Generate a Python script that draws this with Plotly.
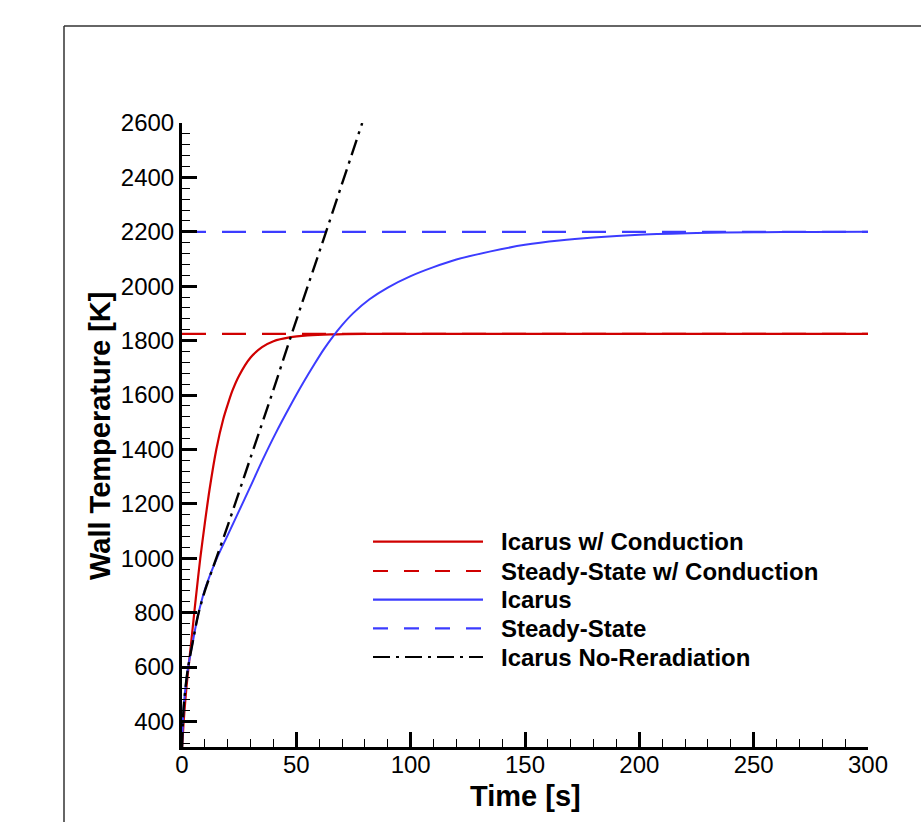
import plotly.graph_objects as go

# ---------------- data ----------------
t_cond = [0, 1, 2, 3, 4, 5, 6, 8, 10, 12, 15, 18, 20, 22, 25, 30, 35, 40, 47, 55, 65, 80, 100, 150, 200, 250, 300]
T_cond = [300, 430, 530, 610, 690, 770, 850, 1000, 1130, 1250, 1400, 1510, 1565, 1615, 1672, 1738, 1776, 1798, 1812, 1819, 1823, 1825, 1825, 1825, 1825, 1825, 1825]

t_ss_cond = [0, 300]
T_ss_cond = [1825, 1825]

t_icarus = [0, 0.5, 1, 2.5, 5, 7, 10, 15, 20, 25, 30, 35, 41, 47, 53, 58, 62, 66, 70, 75, 82, 90, 100, 110, 120, 135, 150, 165, 180, 200, 225, 250, 275, 300]
T_icarus = [300, 420, 480, 590, 705, 790, 885, 995, 1085, 1175, 1265, 1357, 1460, 1555, 1645, 1715, 1768, 1815, 1857, 1902, 1952, 1995, 2037, 2070, 2098, 2128, 2152, 2168, 2179, 2189, 2195.5, 2198.5, 2199.5, 2200]

t_ss = [0, 300]
T_ss = [2200, 2200]

t_norad = [0, 0.5, 1, 2.5, 5, 7, 10, 15, 20, 30, 40, 48, 63, 78.8]
T_norad = [300, 420, 480, 590, 705, 790, 880, 1000, 1120, 1370, 1620, 1825, 2200, 2600]

legend_names = ["Icarus w/ Conduction", "Steady-State w/ Conduction", "Icarus",
                "Steady-State", "Icarus No-Reradiation"]

x_ticks = [0, 50, 100, 150, 200, 250, 300]
y_ticks = [400, 600, 800, 1000, 1200, 1400, 1600, 1800, 2000, 2200, 2400, 2600]

# ---------------- styles ----------------
RED = "#d00000"
BLUE = "#3c3cff"
BLACK = "#000000"
FONT = "Liberation Sans, Arial, Helvetica, sans-serif"

styles = [
    dict(color=RED, width=2.2, dash="solid", shape="spline"),
    dict(color=RED, width=2.2, dash="24px,16px", shape="linear"),
    dict(color=BLUE, width=2.0, dash="solid", shape="spline"),
    dict(color=BLUE, width=2.2, dash="24px,16px", shape="linear"),
    dict(color=BLACK, width=2.4, dash="16px,6px,3px,6px", shape="spline"),
]
legend_dash = ["solid", "15px,16px", "solid", "15px,16px", "17px,6px,3px,6px"]

series = [(t_cond, T_cond), (t_ss_cond, T_ss_cond), (t_icarus, T_icarus),
          (t_ss, T_ss), (t_norad, T_norad)]

W, H = 921, 822
L, R, T, B = 182, 53, 123, 75
pw, ph = W - L - R, H - T - B


def px2paper_x(px):
    return (px - L) / pw


def px2paper_y(py):
    return (H - B - py) / ph


fig = go.Figure()
for (xs, ys), name, st in zip(series, legend_names, styles):
    fig.add_trace(go.Scatter(x=xs, y=ys, mode="lines", name=name,
                             line=dict(color=st["color"], width=st["width"], dash=st["dash"],
                                       shape=st["shape"], smoothing=0.8),
                             showlegend=False, hoverinfo="skip"))

shapes = []
annotations = []

# legend drawn manually (long line samples)
leg_rows = [541.7, 571.0, 599.7, 628.4, 657.0]
for name, st, ld, ry in zip(legend_names, styles, legend_dash, leg_rows):
    shapes.append(dict(type="line", xref="paper", yref="paper",
                       x0=px2paper_x(373), x1=px2paper_x(483),
                       y0=px2paper_y(ry), y1=px2paper_y(ry),
                       line=dict(color=st["color"], width=2.2, dash=ld)))
    annotations.append(dict(text="<b>%s</b>" % name, xref="paper", yref="paper",
                            x=px2paper_x(499), y=px2paper_y(ry),
                            xanchor="left", yanchor="middle", showarrow=False,
                            font=dict(family=FONT, size=24, color="black")))

# outer frame (top and left edges)
shapes.append(dict(type="line", xref="paper", yref="paper",
                   x0=px2paper_x(64), x1=px2paper_x(925),
                   y0=px2paper_y(26), y1=px2paper_y(26),
                   line=dict(color="#333333", width=1.5)))
shapes.append(dict(type="line", xref="paper", yref="paper",
                   x0=px2paper_x(64), x1=px2paper_x(64),
                   y0=px2paper_y(26), y1=px2paper_y(830),
                   line=dict(color="#333333", width=1.5)))

# axis titles
annotations.append(dict(text="<b>Time [s]</b>", xref="paper", yref="paper",
                        x=0.5, y=px2paper_y(796), xanchor="center", yanchor="middle",
                        showarrow=False, font=dict(family=FONT, size=29, color="black")))
annotations.append(dict(text="<b>Wall Temperature [K]</b>", xref="paper", yref="paper",
                        x=px2paper_x(100), y=px2paper_y(436), xanchor="center", yanchor="middle",
                        textangle=-90, showarrow=False,
                        font=dict(family=FONT, size=29, color="black")))

fig.update_layout(
    width=W, height=H,
    margin=dict(l=L, r=R, t=T, b=B, pad=0),
    paper_bgcolor="white", plot_bgcolor="white",
    showlegend=False,
    shapes=shapes, annotations=annotations,
    font=dict(family=FONT, color="black"),
)

fig.update_xaxes(
    range=[0, 300], tickvals=x_ticks, ticktext=[str(v) for v in x_ticks],
    ticks="inside", ticklen=15, tickwidth=3, tickcolor="black",
    showline=True, linewidth=3, linecolor="black",
    showgrid=False, zeroline=False, ticklabelstandoff=-6,
    tickfont=dict(family=FONT, size=24, color="black"),
    minor=dict(dtick=10, tick0=0, ticks="inside", ticklen=8, tickwidth=1, tickcolor="black", showgrid=False),
)
fig.update_yaxes(
    range=[306, 2600], tickvals=y_ticks, ticktext=[str(v) for v in y_ticks],
    ticks="inside", ticklen=15, tickwidth=3, tickcolor="black",
    showline=True, linewidth=3, linecolor="black",
    showgrid=False, zeroline=False,
    tickfont=dict(family=FONT, size=24, color="black"),
    minor=dict(dtick=40, tick0=0, ticks="inside", ticklen=8, tickwidth=1, tickcolor="black", showgrid=False),
)

fig.write_html("out.html", config={"displayModeBar": False},
               post_script="document.body.style.margin='0';document.body.style.overflow='hidden';")
